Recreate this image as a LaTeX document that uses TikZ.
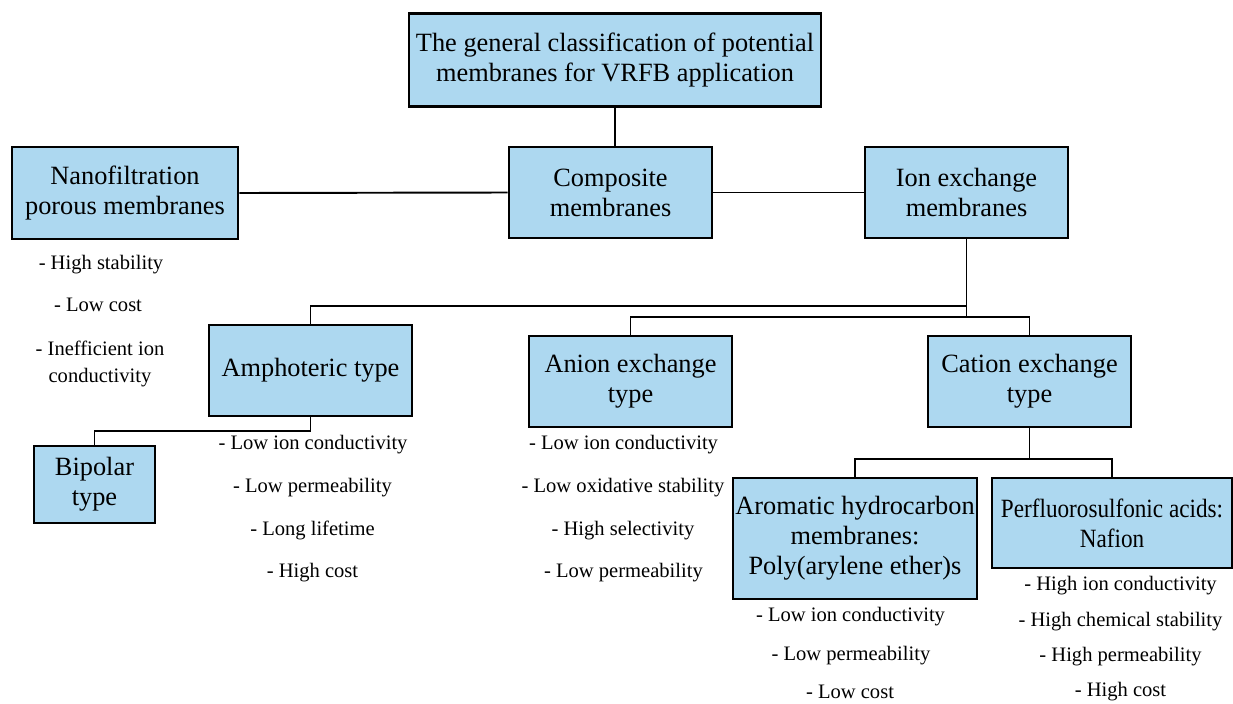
\documentclass[tikz,border=0pt]{standalone}
\usepackage{fontspec}
\setmainfont{Liberation Serif}
\newfontfamily\narrowserif[FakeStretch=0.88]{Liberation Serif}
\usepackage{tikz}
\definecolor{boxblue}{RGB}{173,216,240}

\begin{document}
\begin{tikzpicture}[x=0.02cm,y=-0.02cm,
	box/.style={draw=black, fill=boxblue, line width=1.5pt, align=center, inner sep=0pt, font=\fontsize{15}{17}\selectfont},
	note/.style={align=center, inner sep=0pt, yshift=-1.3pt, font=\fontsize{11.7}{15.3}\selectfont},
	link/.style={draw=black, line width=1.1pt}]

	% Frame
	\useasboundingbox (0,0) rectangle (1233,703);

	% Top box
	\node[box, minimum width=8.24cm, minimum height=1.86cm] (top) at (615,60) {The general classification of potential\\membranes for VRFB application};

	% First row
	\node[box, minimum width=4.52cm, minimum height=1.84cm] (nano) at (125,193) {Nanofiltration\\porous membranes};
	\node[box, minimum width=4.06cm, minimum height=1.82cm] (comp) at (610.5,192.5) {Composite\\membranes};
	\node[box, minimum width=4.06cm, minimum height=1.82cm] (ion) at (966.5,192.5) {Ion exchange\\membranes};

	% Second row
	\node[box, minimum width=4.06cm, minimum height=1.82cm] (amph) at (310.5,370.5) {Amphoteric type};
	\node[box, minimum width=4.06cm, minimum height=1.82cm] (anion) at (630.5,381.5) {Anion exchange\\type};
	\node[box, minimum width=4.06cm, minimum height=1.82cm] (cation) at (1029.5,381.5) {Cation exchange\\type};

	% Third row
	\node[box, minimum width=2.42cm, minimum height=1.54cm] (bipolar) at (94.5,484.5) {Bipolar\\type};
	\node[box, minimum width=4.88cm, minimum height=2.42cm] (arom) at (855,538.5) {Aromatic hydrocarbon\\membranes:\\Poly(arylene ether)s};
	\node[box, minimum width=4.8cm, minimum height=1.8cm, font=\narrowserif\fontsize{15}{17}\selectfont] (perf) at (1112,523) {Perfluorosulfonic acids:\\Nafion};

	% Nanofiltration notes
	\node[note] (nano1) at (101,262) {- High stability};
	\node[note] (nano2) at (98,303) {- Low cost};
	\node[note] (nano3) at (100,362) {- Inefficient ion\\conductivity};

	% Amphoteric notes
	\node[note] (amph1) at (313,442) {- Low ion conductivity};
	\node[note] (amph2) at (312.5,485) {- Low permeability};
	\node[note] (amph3) at (312.5,528) {- Long lifetime};
	\node[note] (amph4) at (312.5,570) {- High cost};

	% Anion notes
	\node[note] (anion1) at (623.5,442) {- Low ion conductivity};
	\node[note] (anion2) at (623,485) {- Low oxidative stability};
	\node[note] (anion3) at (623,528) {- High selectivity};
	\node[note] (anion4) at (623.5,570) {- Low permeability};

	% Aromatic notes
	\node[note] (arom1) at (850.5,614) {- Low ion conductivity};
	\node[note] (arom2) at (851,653) {- Low permeability};
	\node[note] (arom3) at (850,690) {- Low cost};

	% Perfluorosulfonic notes
	\node[note] (perf1) at (1120.5,583) {- High ion conductivity};
	\node[note] (perf2) at (1120.5,619) {- High chemical stability};
	\node[note] (perf3) at (1120.5,654) {- High permeability};
	\node[note] (perf4) at (1120.5,689) {- High cost};

	% Top to composite
	\draw[link] (top.south) -- (top.south |- comp.north);

	% First row links
	\draw[link] (nano.east) -- (comp.west);
	\draw[link] (comp.east) -- (ion.west);

	% Ion exchange branches
	\coordinate (busa) at (0,306);
	\coordinate (busb) at (0,317);
	\draw[link] (ion.south) -- (ion.south |- busb);
	\draw[link] (amph.north) |- (ion.south |- busa);
	\draw[link] (anion.north) |- (cation.north |- busb) -- (cation.north);

	% Amphoteric to bipolar
	\coordinate (busc) at (0,431);
	\draw[link] (amph.south) |- (bipolar.north |- busc) -- (bipolar.north);

	% Cation branches
	\coordinate (busd) at (0,459);
	\draw[link] (cation.south) -- (cation.south |- busd);
	\draw[link] (arom.north) |- (perf.north |- busd) -- (perf.north);

\end{tikzpicture}
\end{document}
